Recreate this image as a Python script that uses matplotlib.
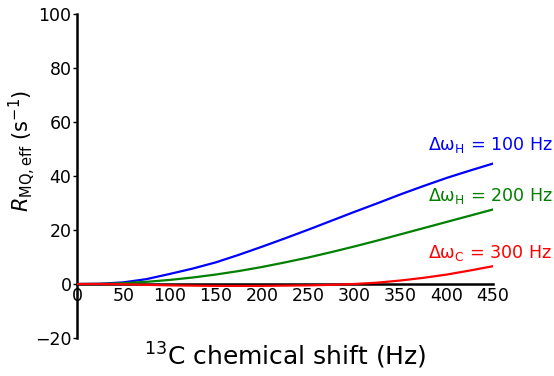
import matplotlib
matplotlib.use("Agg")
import matplotlib.pyplot as plt

x = [0, 25, 50, 75, 100, 125, 150, 175, 200, 225, 250, 275, 300, 325, 350, 375, 400, 425, 450]
r_h100 = [0, 0.1, 0.6, 1.8, 3.7, 5.7, 8.0, 10.8, 13.8, 16.9, 20.1, 23.4, 26.7, 29.9, 33.2, 36.3, 39.3, 42.0, 44.6]
r_h200 = [0, 0.05, 0.3, 0.8, 1.5, 2.4, 3.5, 4.8, 6.3, 8.0, 9.8, 11.8, 13.9, 16.1, 18.4, 20.7, 23.0, 25.3, 27.6]
r_c300 = [0, 0, -0.1, -0.3, -0.5, -0.6, -0.7, -0.7, -0.7, -0.6, -0.5, -0.3, 0, 0.5, 1.3, 2.3, 3.5, 5.0, 6.6]
labels = [r'$\mathregular{\Delta\omega_H}$ = 100 Hz', r'$\mathregular{\Delta\omega_H}$ = 200 Hz', r'$\mathregular{\Delta\omega_C}$ = 300 Hz']
xticks = [0, 50, 100, 150, 200, 250, 300, 350, 400, 450]
yticks = [-20, 0, 20, 40, 60, 80, 100]

fig = plt.figure(figsize=(5.54, 3.76), dpi=100)
ax = fig.add_axes([0.139, 0.101, 0.751, 0.862])
series = [(r_h100, '#0000ff', 51.5), (r_h200, '#008000', 32.6), (r_c300, '#ff0000', 11.5)]
for (ys, c, ty), lab in zip(series, labels):
    ax.plot(x, ys, color=c, lw=1.6, zorder=3)
    ax.text(380, ty, lab, color=c, fontsize=12.6, ha='left', va='center', clip_on=False)

ax.set_xlim(0, 450)
ax.set_ylim(-20, 100)
ax.spines['top'].set_visible(False)
ax.spines['right'].set_visible(False)
ax.spines['bottom'].set_position(('data', 0))
ax.spines['bottom'].set_linewidth(1.8)
ax.spines['left'].set_linewidth(1.8)
ax.set_xticks(xticks)
ax.set_yticks(yticks)
ax.set_yticklabels(['\u221220', '0', '20', '40', '60', '80', '100'])
ax.tick_params(axis='x', length=0, pad=2, labelsize=12.5)
ax.tick_params(axis='y', length=3, width=1, direction='out', pad=1, labelsize=12.5)
ax.set_xlabel(r'$^{13}$C chemical shift (Hz)', fontsize=18)
ax.xaxis.set_label_coords(0.5, -0.01)
ax.set_ylabel(r'$R_{\mathregular{MQ,eff}}$ (s$^{\mathregular{-1}}$)', fontsize=15)
ax.yaxis.set_label_coords(-0.095, 0.577)
fig.savefig('out.png', dpi=100)
